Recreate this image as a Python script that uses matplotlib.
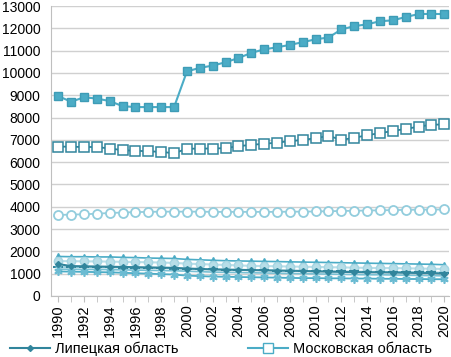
import matplotlib
matplotlib.use("Agg")
import matplotlib.pyplot as plt
from matplotlib.ticker import MultipleLocator

plt.rcParams['font.family'] = ['Liberation Sans', 'DejaVu Sans']

years = list(range(1990, 2021))

# Москва (filled squares)
moscow_city = [8960, 8710, 8910, 8850, 8740, 8510, 8470, 8470, 8470, 8470,
               10070, 10230, 10330, 10480, 10670, 10900, 11060, 11150, 11260, 11380,
               11510, 11590, 11950, 12100, 12180, 12320, 12360, 12510, 12640, 12650, 12640]
# Московская область (open squares)
moscow_obl = [6700, 6690, 6680, 6680, 6610, 6540, 6510, 6490, 6460, 6400,
              6600, 6610, 6610, 6630, 6715, 6780, 6820, 6880, 6940, 7000,
              7070, 7180, 7000, 7090, 7210, 7300, 7400, 7490, 7590, 7680, 7690]
# open circles series
circles = [3630, 3650, 3660, 3690, 3720, 3740, 3760, 3770, 3780, 3780,
           3780, 3780, 3770, 3770, 3770, 3770, 3770, 3770, 3780, 3780,
           3790, 3800, 3810, 3820, 3830, 3840, 3850, 3860, 3870, 3870, 3880]
# lower group
triangles = [1770, 1760, 1760, 1750, 1750, 1730, 1720, 1700, 1690, 1680,
             1640, 1620, 1600, 1580, 1570, 1560, 1550, 1540, 1530, 1520,
             1510, 1500, 1490, 1480, 1470, 1460, 1450, 1440, 1430, 1420, 1400]
light_dots = [1560, 1560, 1550, 1550, 1540, 1530, 1520, 1510, 1500, 1480,
              1450, 1430, 1410, 1390, 1370, 1350, 1340, 1330, 1320, 1310,
              1300, 1290, 1280, 1270, 1260, 1250, 1250, 1240, 1230, 1220, 1210]
dashes = [1300, 1290, 1290, 1280, 1280, 1270, 1260, 1250, 1240, 1230,
          1210, 1200, 1190, 1180, 1170, 1160, 1150, 1140, 1130, 1130,
          1120, 1110, 1100, 1100, 1090, 1090, 1080, 1080, 1070, 1060, 1050]
lipetsk = [1430, 1340, 1330, 1320, 1310, 1300, 1290, 1280, 1270, 1260,
           1230, 1210, 1190, 1180, 1170, 1160, 1150, 1140, 1130, 1120,
           1100, 1090, 1080, 1070, 1060, 1060, 1050, 1040, 1030, 1020, 1000]
crosses = [1200, 1200, 1190, 1190, 1180, 1170, 1160, 1150, 1140, 1130,
           1110, 1090, 1070, 1060, 1050, 1040, 1030, 1020, 1010, 1000,
           990, 980, 970, 960, 950, 950, 940, 930, 920, 910, 900]
stars = [1100, 1090, 1080, 1070, 1060, 1040, 1020, 1000, 980, 960,
         910, 890, 870, 860, 850, 840, 830, 820, 810, 800,
         800, 790, 790, 780, 780, 770, 770, 760, 760, 750, 750]

fig = plt.figure(figsize=(4.51, 3.57), dpi=100)
ax = fig.add_axes([0.113, 0.171, 0.882, 0.812])

ax.plot(years, moscow_city, color='#4BACC6', marker='s', markersize=6,
        markerfacecolor='#4BACC6', markeredgecolor='#3E9CB6', linewidth=1.5, zorder=3)
ax.plot(years, moscow_obl, color='#31859C', marker='s', markersize=6.5,
        markerfacecolor='white', markeredgecolor='#31859C', markeredgewidth=1.1,
        linewidth=1.3, zorder=3)
ax.plot(years, circles, color='#93CDDD', marker='o', markersize=6.5,
        markerfacecolor='white', markeredgecolor='#93CDDD', markeredgewidth=1.3,
        linewidth=1.3, zorder=3)
ax.plot(years, triangles, color='#4BACC6', marker='^', markersize=5,
        markerfacecolor='#3E9CB6', linewidth=1.2, zorder=3)
ax.plot(years, light_dots, color='#B7DEE8', marker='o', markersize=6,
        markerfacecolor='#B7DEE8', markeredgecolor='#A5D5E2', linewidth=1.5, zorder=3)
ax.plot(years, dashes, color='#92CDDC', marker='_', markersize=7,
        markeredgecolor='#31859C', markeredgewidth=1.5, linewidth=1.2, zorder=3)
ax.plot(years, crosses, color='#78C0D4', marker='x', markersize=4,
        markeredgecolor='#78C0D4', linewidth=1.2, zorder=3)
ax.plot(years, stars, color='#4BACC6', marker=(6, 2, 0), markersize=6,
        markeredgecolor='#6BBBD2', markeredgewidth=1.2, linewidth=1.3, zorder=3)
ax.plot(years, lipetsk, color='#31859C', marker='D', markersize=3,
        markerfacecolor='#31859C', linewidth=1.5, zorder=4)

ax.set_xlim(1989.43, 2020.35)
ax.set_ylim(0, 13000)
ax.yaxis.set_major_locator(MultipleLocator(1000))
ax.set_xticks(years[::2])
ax.set_xticks(years, minor=True)
ax.tick_params(axis='x', which='major', labelrotation=90, labelsize=10.5,
               length=4, color='#BFBFBF', pad=2)
ax.tick_params(axis='x', which='minor', length=4, color='#BFBFBF')
ax.tick_params(axis='y', labelsize=10, length=0, pad=7.5)
ax.grid(axis='y', color='#D0D0D0', linewidth=1.0, zorder=0)
for s in ['top', 'right']:
    ax.spines[s].set_visible(False)
for s in ['left', 'bottom']:
    ax.spines[s].set_color('#BFBFBF')

h1, = ax.plot([], [], color='#31859C', marker='D', markersize=3, linewidth=1.5)
h2, = ax.plot([], [], color='#4BACC6', marker='s', markersize=7,
              markerfacecolor='white', markeredgecolor='#4BACC6', linewidth=1.5)
fig.legend([h1, h2], ['Липецкая область', 'Московская область'],
           loc='lower center', bbox_to_anchor=(0.49, -0.035), ncol=2, frameon=False,
           fontsize=10.5, handlelength=2.8, columnspacing=4.7, handletextpad=0.35)

fig.savefig('out.png', dpi=100)
